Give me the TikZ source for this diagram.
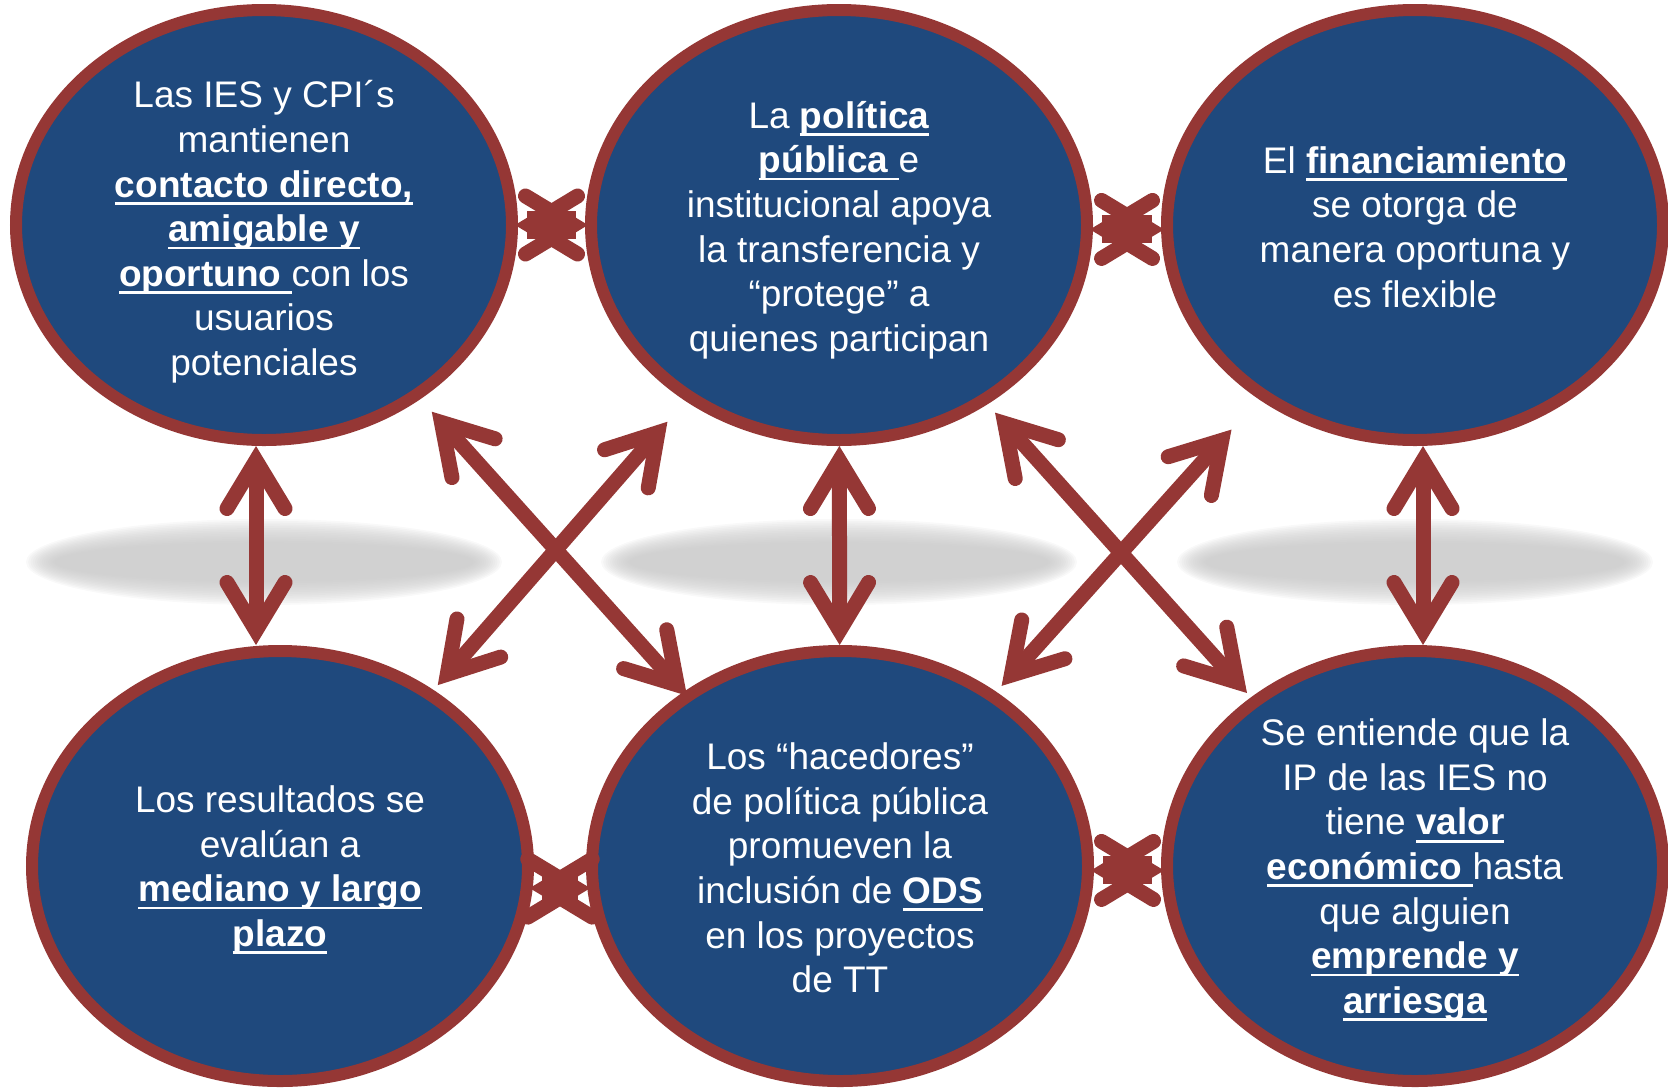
\documentclass[tikz,border=0pt]{standalone}
\usepackage{fontspec}
\setmainfont{Liberation Sans}
\usetikzlibrary{shapes.geometric,arrows.meta}

\definecolor{ovalblue}{HTML}{1F497D}
\definecolor{ovalred}{HTML}{953735}

\newcommand{\ulbf}[1]{\setbox0\hbox{\bfseries #1}\rlap{\rule[-3.8pt]{\wd0}{1.4pt}}\box0}

\begin{document}
\begin{tikzpicture}[x=0.5pt, y=-0.5pt,
  bubble/.style = {ellipse, draw=ovalred, fill=ovalblue, line width=6pt,
    minimum width=248pt, minimum height=215pt, inner sep=0pt},
  txt/.style = {text=white, align=center, inner sep=0pt, yshift=-2pt,
    font=\fontsize{18.5}{22.3}\selectfont},
  link/.style = {draw=ovalred, line width=7.5pt,
    >={Straight Barb[length=24pt, width=29pt, line cap=round]}, <->},
  cross/.style = {link, shorten <=-1.5pt, shorten >=-1.5pt},
  crosscore/.style = {draw=ovalred, line width=14pt, shorten <=4.5pt, shorten >=4.5pt}]

  \useasboundingbox (0,0) rectangle (1668,1087);

  % soft shadows under the top row
  \foreach \cx in {264, 839, 1415}
    \foreach \k in {0,...,13}
      \fill[gray!45, opacity=0.11] (\cx,562) ellipse ({238-2.2*\k} and {43-1.8*\k});

  \node[bubble] (ies) at (264,225) {};
  \node[bubble] (pol) at (839,225) {};
  \node[bubble] (fin) at (1415,225) {};
  \node[bubble] (res) at (280,866) {};
  \node[bubble] (hac) at (840,866) {};
  \node[bubble] (ip) at (1415,866) {};

  \node[txt, yshift=-1.5pt] (ies-t) at (ies) {Las IES y CPI´s\\ mantienen\\ \ulbf{contacto directo,}\\
    \ulbf{amigable y}\\ \ulbf{oportuno }con los\\ usuarios\\ potenciales};
  \node[txt, yshift=-0.5pt] (pol-t) at (pol) {La \ulbf{política}\\ \ulbf{pública }e\\ institucional apoya\\
    la transferencia y\\ “protege” a\\ quienes participan};
  \node[txt, yshift=1pt] (fin-t) at (fin) {El \ulbf{financiamiento}\\ se otorga de\\ manera oportuna y\\ es flexible};
  \node[txt] (res-t) at (res) {Los resultados se\\ evalúan a\\ \ulbf{mediano y largo}\\ \ulbf{plazo}};
  \node[txt, yshift=1pt] (hac-t) at (hac) {Los “hacedores”\\ de política pública\\ promueven la\\
    inclusión de \ulbf{ODS}\\ en los proyectos\\ de TT};
  \node[txt] (ip-t) at (ip) {Se entiende que la\\ IP de las IES no\\ tiene \ulbf{valor}\\
    \ulbf{económico }hasta\\ que alguien\\ \ulbf{emprende y}\\ \ulbf{arriesga}};

  % vertical links
  \draw[link] ([xshift=-4pt]ies.south) -- ([xshift=-12pt]res.north);
  \draw[link] (pol) -- (hac);
  \draw[link] ([xshift=4pt]fin.south) -- ([xshift=4pt]ip.north);

  % diagonal links
  \draw[link, shorten <=125.5pt, shorten >=114.5pt] (ies.center) -- (hac.center);
  \draw[link, shorten <=130.5pt, shorten >=120pt] (pol.center) -- (res.center);
  \draw[link, shorten <=116.7pt, shorten >=125.7pt] ([yshift=-7pt]pol.center) -- ([yshift=-7pt]ip.center);
  \draw[link, shorten <=137.4pt, shorten >=121pt] (fin.center) -- (hac.center);

  % short links between neighbours
  \foreach \a/\b in {ies.-0.5/pol.180.5, pol.-1.5/fin.181.5, res.-5/hac.185, hac.-1/ip.181} {
    \draw[crosscore] (\a) -- (\b);
    \draw[cross] (\a) -- (\b);
  }
\end{tikzpicture}
\end{document}
